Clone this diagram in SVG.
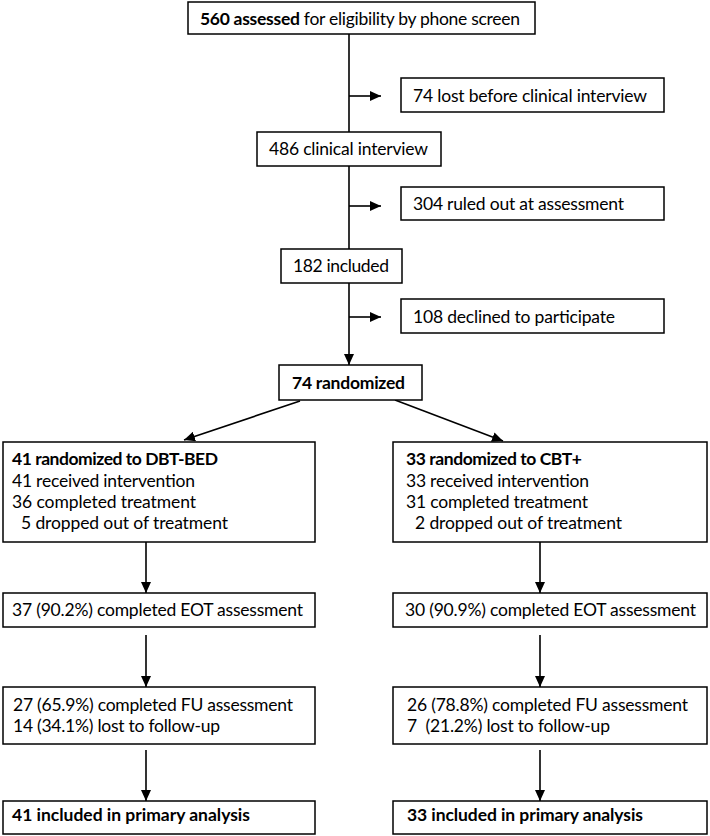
<svg xmlns="http://www.w3.org/2000/svg" width="710" height="836" viewBox="0 0 710 836">
<defs>
<style>
.box{fill:#fff;stroke:#000;stroke-width:1.5}
.t{font-family:Lato,"Liberation Sans",sans-serif;font-size:17.5px;fill:#000}
.b{font-weight:bold}
.c{stroke:#000;stroke-width:1.6;fill:none}
</style>
<marker id="ah" markerUnits="userSpaceOnUse" markerWidth="11" markerHeight="10" refX="11" refY="5" orient="auto">
<path d="M0,0 L11,5 L0,10 z" fill="#000"/>
</marker>
</defs>
<rect width="710" height="836" fill="#fff"/>
<g id="connectors">
<line class="c" x1="349" y1="34" x2="349" y2="132"/>
<line class="c" x1="349" y1="166" x2="349" y2="249"/>
<line class="c" x1="349" y1="283" x2="349" y2="365" marker-end="url(#ah)"/>
<line class="c" x1="349" y1="96" x2="381" y2="96" marker-end="url(#ah)"/>
<line class="c" x1="349" y1="206" x2="381" y2="206" marker-end="url(#ah)"/>
<line class="c" x1="349" y1="317" x2="381" y2="317" marker-end="url(#ah)"/>
<line class="c" x1="300" y1="401" x2="184" y2="440" marker-end="url(#ah)"/>
<line class="c" x1="395" y1="400" x2="503" y2="441" marker-end="url(#ah)"/>
<line class="c" x1="146" y1="542" x2="146" y2="593" marker-end="url(#ah)"/>
<line class="c" x1="146" y1="635" x2="146" y2="687" marker-end="url(#ah)"/>
<line class="c" x1="146" y1="750" x2="146" y2="801" marker-end="url(#ah)"/>
<line class="c" x1="540" y1="542" x2="540" y2="593" marker-end="url(#ah)"/>
<line class="c" x1="540" y1="635" x2="540" y2="687" marker-end="url(#ah)"/>
<line class="c" x1="540" y1="750" x2="540" y2="801" marker-end="url(#ah)"/>
</g>
<g id="assessed">
<rect class="box" x="188" y="2" width="347" height="32"/>
<text class="t" x="200" y="25" textLength="320"><tspan class="b">560 assessed</tspan> for eligibility by phone screen</text>
</g>
<g id="lost">
<rect class="box" x="401" y="78" width="263" height="34"/>
<text class="t" x="413" y="102" textLength="234">74 lost before clinical interview</text>
</g>
<g id="interview">
<rect class="box" x="257" y="132" width="184" height="34"/>
<text class="t" x="269" y="155" textLength="159">486 clinical interview</text>
</g>
<g id="ruledout">
<rect class="box" x="401" y="187" width="263" height="33"/>
<text class="t" x="413" y="210" textLength="211">304 ruled out at assessment</text>
</g>
<g id="included">
<rect class="box" x="281" y="249" width="121" height="34"/>
<text class="t" x="293" y="272" textLength="96">182 included</text>
</g>
<g id="declined">
<rect class="box" x="401" y="299" width="263" height="34"/>
<text class="t" x="413" y="323" textLength="202">108 declined to participate</text>
</g>
<g id="randomized">
<rect class="box" x="279" y="365" width="143" height="35"/>
<text class="t b" x="292" y="389" textLength="113">74 randomized</text>
</g>
<g id="dbt">
<rect class="box" x="3" y="442" width="312" height="100"/>
<text class="t b" x="12" y="465" textLength="206">41 randomized to DBT-BED</text>
<text class="t" x="12" y="487" textLength="183">41 received intervention</text>
<text class="t" x="12" y="508" textLength="184">36 completed treatment</text>
<text class="t" x="21" y="529" textLength="207">5 dropped out of treatment</text>
</g>
<g id="cbt">
<rect class="box" x="393" y="442" width="314" height="100"/>
<text class="t b" x="406" y="465" textLength="176">33 randomized to CBT+</text>
<text class="t" x="406" y="487" textLength="183">33 received intervention</text>
<text class="t" x="406" y="508" textLength="182">31 completed treatment</text>
<text class="t" x="415" y="529" textLength="207">2 dropped out of treatment</text>
</g>
<g id="eot-dbt">
<rect class="box" x="3" y="593" width="312" height="34"/>
<text class="t" x="12" y="616" textLength="291">37 (90.2%) completed EOT assessment</text>
</g>
<g id="eot-cbt">
<rect class="box" x="393" y="593" width="314" height="34"/>
<text class="t" x="405" y="616" textLength="291">30 (90.9%) completed EOT assessment</text>
</g>
<g id="fu-dbt">
<rect class="box" x="3" y="687" width="312" height="57"/>
<text class="t" x="13" y="711" textLength="280">27 (65.9%) completed FU assessment</text>
<text class="t" x="13" y="732" textLength="207">14 (34.1%) lost to follow-up</text>
</g>
<g id="fu-cbt">
<rect class="box" x="393" y="687" width="314" height="57"/>
<text class="t" x="407" y="711" textLength="281">26 (78.8%) completed FU assessment</text>
<text class="t" x="407" y="732" textLength="203" xml:space="preserve">7  (21.2%) lost to follow-up</text>
</g>
<g id="final-dbt">
<rect class="box" x="3" y="801" width="312" height="33"/>
<text class="t b" x="12" y="821" textLength="238">41 included in primary analysis</text>
</g>
<g id="final-cbt">
<rect class="box" x="393" y="801" width="314" height="33"/>
<text class="t b" x="407" y="821" textLength="236">33 included in primary analysis</text>
</g>
</svg>
